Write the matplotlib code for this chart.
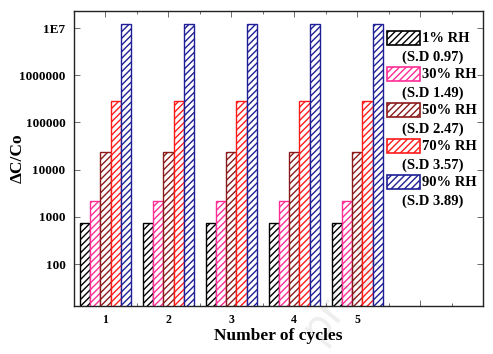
import matplotlib
matplotlib.use("Agg")
import matplotlib.pyplot as plt
from matplotlib.patches import Rectangle
import numpy as np

cycles = [1, 2, 3, 4, 5]
series_labels = ["1% RH", "30% RH", "50% RH", "70% RH", "90% RH"]
sd_labels = ["(S.D 0.97)", "(S.D 1.49)", "(S.D 2.47)", "(S.D 3.57)", "(S.D 3.89)"]
values_1 = [745, 745, 745, 745, 745]
values_30 = [2130, 2130, 2130, 2130, 2130]
values_50 = [24000, 24000, 24000, 24000, 24000]
values_70 = [280000, 280000, 280000, 280000, 280000]
values_90 = [1.2e7, 1.2e7, 1.2e7, 1.2e7, 1.2e7]
ytick_values = [100, 1000, 10000, 100000, 1000000, 1e7]
ytick_labels = ["100", "1000", "10000", "100000", "1000000", "1E7"]

series = [values_1, values_30, values_50, values_70, values_90]
colors = ["#000000", "#FF2D96", "#8B1A1A", "#FF1A1A", "#1E1E96"]

plt.rcParams["font.family"] = ["Liberation Serif", "DejaVu Serif"]
plt.rcParams["font.weight"] = "bold"
plt.rcParams["hatch.linewidth"] = 1.0

fig = plt.figure(figsize=(4.93, 3.54), dpi=100)
ax = fig.add_axes([0.150, 0.1356, 0.830, 0.833])

w = 0.163
x = np.array(cycles, dtype=float)
for i, (vals, c) in enumerate(zip(series, colors)):
    ax.bar(x + (i - 2) * w, vals, width=w, bottom=0, facecolor="white",
           edgecolor=c, hatch="/////", linewidth=1.0, zorder=2)

ax.set_yscale("log")
ax.set_ylim(12.9, 2.29e7)
ax.set_xlim(0.5, 7.0)
ax.yaxis.set_major_locator(matplotlib.ticker.FixedLocator(ytick_values))
ax.yaxis.set_minor_locator(matplotlib.ticker.NullLocator())
ax.set_yticklabels(ytick_labels)
ax.set_xticks([1, 2, 3, 4, 5, 6, 7])
ax.set_xticklabels([str(c) for c in cycles] + ["", ""])
ax.set_xticks([1.5, 2.5, 3.5, 4.5, 5.5, 6.5], minor=True)

ax.tick_params(axis="both", which="both", direction="in", top=True, right=True,
               color="#555555", width=0.6)
ax.tick_params(axis="both", which="major", length=4, labelsize=9.5, pad=6)
ax.tick_params(axis="x", which="minor", length=2.5)
for lbl in ax.get_xticklabels() + ax.get_yticklabels():
    lbl.set_fontweight("bold")
ax.tick_params(axis="x", labelsize=8.5)

for sp in ax.spines.values():
    sp.set_linewidth(1.0)
    sp.set_color("#222222")

ax.set_xlabel("Number of cycles", fontsize=12.5, fontweight="bold", labelpad=1)
ax.set_ylabel("ΔC/Co", fontsize=12.5, fontweight="bold")
ax.yaxis.set_label_coords(-0.118, 0.5)

# legend (manual layout)
step = 0.122
for i, (lab, sd, c) in enumerate(zip(series_labels, sd_labels, colors)):
    ytop = 0.933 - i * step
    ax.add_patch(Rectangle((0.765, ytop - 0.0475), 0.081, 0.0475,
                           transform=ax.transAxes, facecolor="white",
                           edgecolor=c, hatch="/////", linewidth=1.2, zorder=5))
    ax.text(0.851, 0.908 - i * step, lab, transform=ax.transAxes,
            ha="left", va="center", fontsize=10.5, fontweight="bold", zorder=6)
    ax.text(0.876, 0.844 - i * step, sd, transform=ax.transAxes,
            ha="center", va="center", fontsize=10.5, fontweight="bold", zorder=6)

# faint watermark
fig.text(0.695, 0.17, "proof", rotation=52, fontsize=30, color="#000000",
         alpha=0.07, ha="center", va="center", zorder=10, fontweight="normal",
         family=["DejaVu Sans"])

fig.savefig("out.png", dpi=100)
